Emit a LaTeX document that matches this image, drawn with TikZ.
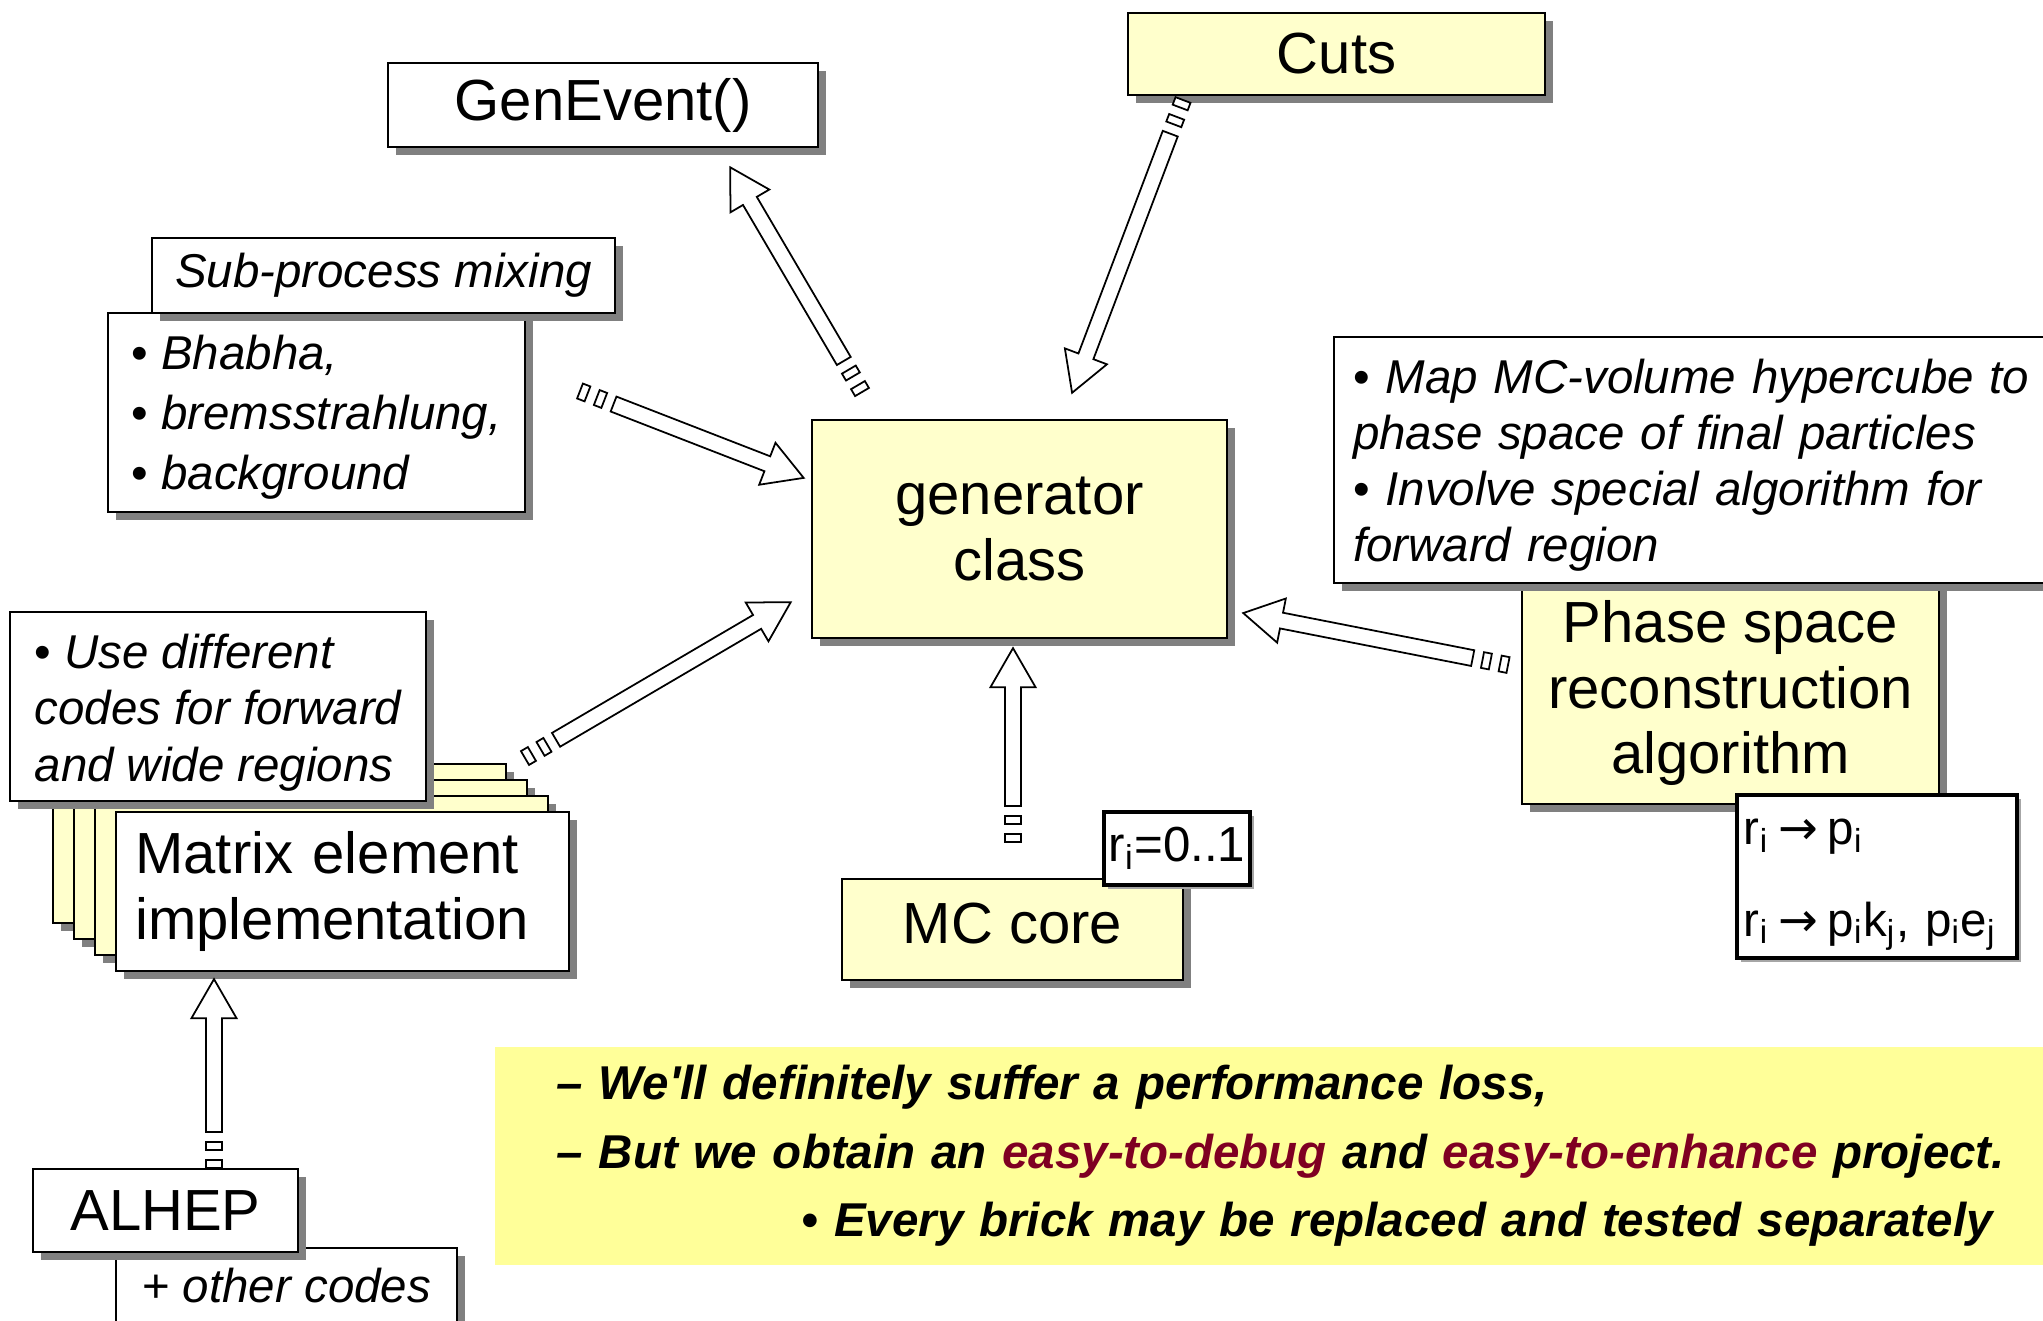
\documentclass[tikz,border=0pt]{standalone}
\usepackage{fontspec}
\setmainfont{Liberation Sans}
\newfontfamily\arrowfont{DejaVu Sans}
\usepackage{tikz}
\usetikzlibrary{calc,shadows}
\definecolor{boxyel}{HTML}{FFFFCC}
\definecolor{bandyel}{HTML}{FFFF99}
\definecolor{darkred}{HTML}{7F0022}
\definecolor{shadowgray}{HTML}{808080}
\tikzset{
  box/.style={draw,line width=0.6pt,fill=white,inner sep=0pt,
    general shadow={fill=shadowgray,shadow xshift=0.08cm,shadow yshift=-0.08cm}},
  ybox/.style={box,fill=boxyel},
  tbox/.style={draw,line width=1.2pt,fill=white,inner sep=0pt,
    general shadow={fill=shadowgray!70,shadow xshift=0.04cm,shadow yshift=-0.04cm}},
  bigtxt/.style={font=\fontsize{16.5}{18.5}\selectfont},
  medtxt/.style={font=\fontsize{13.5}{16}\selectfont\itshape},
  blk/.style={draw,line width=0.5pt,fill=white}
}
% hollow arrow with two small squares at its tail
\newcommand{\blockarrow}[2]{%
  \path let \p1=($(#2)-(#1)$) in
    \pgfextra{\pgfmathsetmacro{\arrang}{atan2(\y1,\x1)}%
      \pgfmathsetmacro{\arrlen}{veclen(\x1,\y1)/0.284528}%
      \global\let\arrang\arrang\global\let\arrlen\arrlen};
  \begin{scope}[shift={(#1)},rotate=\arrang,x=0.01cm,y=0.01cm]
    \draw[blk] (0,-8) rectangle (8,8);
    \draw[blk] (18,-8) rectangle (26,8);
    \draw[blk] (36,-8) -- ({\arrlen-39},-8) -- ({\arrlen-39},-22.5) -- (\arrlen,0)
      -- ({\arrlen-39},22.5) -- ({\arrlen-39},8) -- (36,8) -- cycle;
  \end{scope}}
\newcommand{\maparrow}{\hspace{0.2em}{\arrowfont →}\hspace{0.2em}}

\begin{document}
\begin{tikzpicture}[x=0.01cm,y=-0.01cm]
\useasboundingbox (0,0) rectangle (2043,1320);
% summary band
\node[fill=bandyel,anchor=north west,minimum height=2.18cm,inner ysep=0pt,inner xsep=0.62cm,
  text width=15.2cm,align=left,font=\fontsize{13.5}{19.5}\selectfont\bfseries\itshape]
  (band) at (494,1046) {– We\textquotesingle ll definitely suffer a performance loss,\\
  – But we obtain an \textcolor{darkred}{easy-to-debug} and \textcolor{darkred}{easy-to-enhance} project.\\
  \hspace*{2.45cm}• Every brick may be replaced and tested separately};
% top row
\node[box,bigtxt,minimum width=4.30cm,minimum height=0.84cm] (genev) at (603,105) {GenEvent()};
\node[ybox,bigtxt,minimum width=4.17cm,minimum height=0.82cm] (cuts) at (1336.5,54) {Cuts};
\node[box,align=left,font=\fontsize{13.5}{17}\selectfont\itshape,
  minimum width=4.17cm,minimum height=1.99cm] (bhabha) at (316.5,412.5)
  {\rule{0pt}{12.5pt}{\upshape •} Bhabha,\\{\upshape •} bremsstrahlung,\\{\upshape •} background};
\node[box,medtxt,minimum width=4.63cm,minimum height=0.75cm] (subproc) at (383.5,275.5) {Sub-process mixing};
% centre
\node[ybox,bigtxt,align=center,minimum width=4.15cm,minimum height=2.18cm] (gen) at (1019.5,529) {generator\\class};
% right side
\node[ybox,bigtxt,align=center,minimum width=4.17cm,minimum height=2.22cm] (phase) at (1730.5,693)
  {Phase space\\reconstruction\\algorithm};
\node[box,medtxt,anchor=north west,align=left,text width=7.2cm,inner xsep=0.19cm,
  minimum height=2.46cm] (mapmc) at (1333,336)
  {\rule{0pt}{12.7pt}{\upshape •} Map MC-volume hypercube to\\phase space of final particles\\
   {\upshape •} Involve special algorithm for\\forward region};
\node[tbox,align=left,font=\fontsize{13.5}{26}\selectfont,text width=2.66cm,inner xsep=0.07cm,
  minimum height=1.63cm] (rmap) at (1877,876.5)
  {\mbox{\rule{0pt}{12pt}r\textsubscript{i}\maparrow p\textsubscript{i}}\\
   \mbox{r\textsubscript{i}\maparrow p\textsubscript{i}k\textsubscript{j}, p\textsubscript{i}e\textsubscript{j}}};
% MC core
\node[ybox,bigtxt,minimum width=3.41cm,minimum height=1.01cm] (mccore) at (1012.5,929.5) {MC core\vphantom{p}};
\node[tbox,font=\fontsize{14}{16}\selectfont,minimum width=1.46cm,minimum height=0.73cm]
  (rrange) at (1177,848.5) {r\textsubscript{i}=0..1};
% matrix element stack
\foreach \k in {3,2,1}
  \node[ybox,minimum width=4.53cm,minimum height=1.59cm] (page\k) at ({342.5-21*\k},{891.5-16*\k}) {};
\node[box,bigtxt,align=left,text width=4.14cm,inner xsep=0.195cm,minimum height=1.59cm]
  (matrix) at (342.5,891.5) {Matrix element\\implementation};
\node[box,medtxt,align=left,minimum width=4.16cm,minimum height=1.89cm] (usediff) at (218,706.5)
  {\rule{0pt}{13.3pt}{\upshape •} Use different\\codes for forward\\and wide regions};
% ALHEP
\node[box,medtxt,minimum width=3.41cm,minimum height=0.76cm] (other) at (286.5,1286) {{\upshape +} other codes};
\node[box,bigtxt,minimum width=2.65cm,minimum height=0.83cm] (alhep) at (165.5,1210.5) {ALHEP};
% arrow ends
\coordinate (gen-a) at (862,392);    \coordinate (genev-in) at (730,167);
\coordinate (cuts-out) at (1183,100); \coordinate (gen-b) at (1072,393);
\coordinate (bhabha-out) at (580,391); \coordinate (gen-c) at (804,478);
\coordinate (matrix-out) at (525,758); \coordinate (gen-d) at (791,602);
\coordinate (mccore-out) at (1013,842); \coordinate (gen-e) at (1013,648);
\coordinate (phase-out) at (1508,665); \coordinate (gen-f) at (1243,613);
\coordinate (alhep-out) at (214,1168); \coordinate (matrix-in) at (214,979);
\blockarrow{gen-a}{genev-in}
\blockarrow{cuts-out}{gen-b}
\blockarrow{bhabha-out}{gen-c}
\blockarrow{matrix-out}{gen-d}
\blockarrow{mccore-out}{gen-e}
\blockarrow{phase-out}{gen-f}
\blockarrow{alhep-out}{matrix-in}
\end{tikzpicture}
\end{document}
